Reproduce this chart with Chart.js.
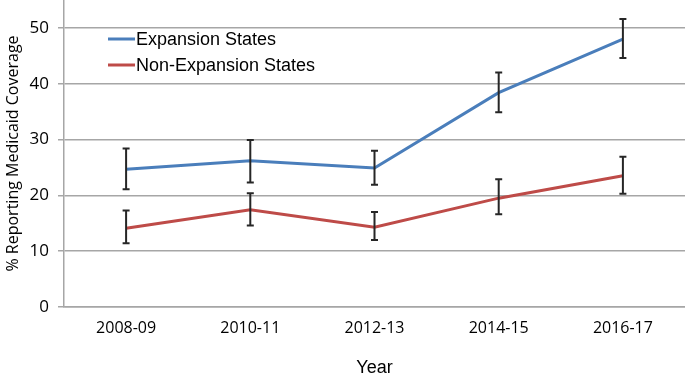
<!DOCTYPE html>
<html>
<head>
<meta charset="utf-8">
<script src="https://cdn.jsdelivr.net/npm/chart.js@4"></script>
<style>html,body{margin:0;padding:0;background:#fff}</style>
</head>
<body>
<canvas id="chart" width="685" height="379"></canvas>
<script>
const YEARS = ['2008-09', '2010-11', '2012-13', '2014-15', '2016-17'];
const EXPANSION = [24.7, 26.2, 24.9, 38.4, 48.0];
const EXPANSION_LOW = [21.1, 22.3, 21.9, 34.9, 44.6];
const EXPANSION_HIGH = [28.4, 29.9, 28.0, 42.0, 51.6];
const NON_EXPANSION = [14.1, 17.4, 14.3, 19.5, 23.5];
const NON_LOW = [11.4, 14.6, 12.0, 16.6, 20.3];
const NON_HIGH = [17.3, 20.4, 17.0, 22.9, 26.9];
const Y_TICKS = [0, 10, 20, 30, 40, 50];

const GRID = '#a6a6a6';
const BLUE = '#4a7ebb';
const RED = '#be4b48';

// error bars drawn on top of the lines
const errorBars = {
  id: 'errorBars',
  afterDatasetsDraw(chart) {
    const { ctx } = chart;
    const y = chart.scales.y;
    ctx.save();
    ctx.strokeStyle = '#262626';
    ctx.lineWidth = 2;
    chart.data.datasets.forEach((ds, i) => {
      const meta = chart.getDatasetMeta(i);
      meta.data.forEach((pt, j) => {
        const top = y.getPixelForValue(ds.high[j]);
        const bot = y.getPixelForValue(ds.low[j]);
        ctx.beginPath();
        ctx.moveTo(pt.x, top); ctx.lineTo(pt.x, bot);
        ctx.moveTo(pt.x - 3.5, top); ctx.lineTo(pt.x + 3.5, top);
        ctx.moveTo(pt.x - 3.5, bot); ctx.lineTo(pt.x + 3.5, bot);
        ctx.stroke();
      });
    });
    ctx.restore();
  }
};

// legend inside the plot, top left
const innerLegend = {
  id: 'innerLegend',
  afterDraw(chart) {
    const { ctx } = chart;
    ctx.save();
    ctx.font = '18px "Liberation Sans", Arial, sans-serif';
    ctx.textBaseline = 'middle';
    ctx.fillStyle = '#000';
    chart.data.datasets.forEach((ds, i) => {
      const ly = 39 + i * 26;
      ctx.strokeStyle = ds.borderColor;
      ctx.lineWidth = 3;
      ctx.beginPath();
      ctx.moveTo(108, ly); ctx.lineTo(135, ly);
      ctx.stroke();
      ctx.fillText(ds.label, 136, ly + 1);
    });
    ctx.restore();
  }
};

new Chart(document.getElementById('chart'), {
  type: 'line',
  data: {
    labels: YEARS,
    datasets: [
      { label: 'Expansion States', data: EXPANSION, low: EXPANSION_LOW, high: EXPANSION_HIGH,
        borderColor: BLUE, borderWidth: 3, pointRadius: 0, tension: 0 },
      { label: 'Non-Expansion States', data: NON_EXPANSION, low: NON_LOW, high: NON_HIGH,
        borderColor: RED, borderWidth: 3, pointRadius: 0, tension: 0 },
    ],
  },
  options: {
    responsive: false,
    animation: false,
    layout: { padding: 0 },
    plugins: { legend: { display: false }, tooltip: { enabled: false } },
    scales: {
      x: {
        offset: true,
        grid: { display: true, drawOnChartArea: false, drawTicks: false },
        border: { color: GRID, width: 1.5 },
        ticks: { color: '#000', padding: 12, font: { family: 'Open Sans', size: 16 } },
        title: { display: true, text: 'Year', color: '#000', padding: 0,
          font: { family: 'Liberation Sans', size: 18 } },
        afterFit(scale) { scale.height = 72; scale.paddingLeft = 0; scale.paddingRight = 0; },
      },
      y: {
        min: 0,
        max: 55,
        afterBuildTicks(scale) { scale.ticks = Y_TICKS.map(v => ({ value: v })); },
        grid: { color: GRID, lineWidth: 1.5, tickLength: 6, tickColor: GRID },
        border: { color: GRID, width: 1.5 },
        ticks: { color: '#000', padding: 9, font: { family: 'Open Sans', size: 17 } },
        title: { display: true, text: '% Reporting Medicaid Coverage', color: '#000', padding: { top: 4 },
          font: { family: 'Open Sans', size: 16 } },
        afterFit(scale) { scale.width = 64; scale.paddingTop = 0; scale.paddingBottom = 0; },
      },
    },
  },
  plugins: [errorBars, innerLegend],
});
</script>
</body>
</html>
